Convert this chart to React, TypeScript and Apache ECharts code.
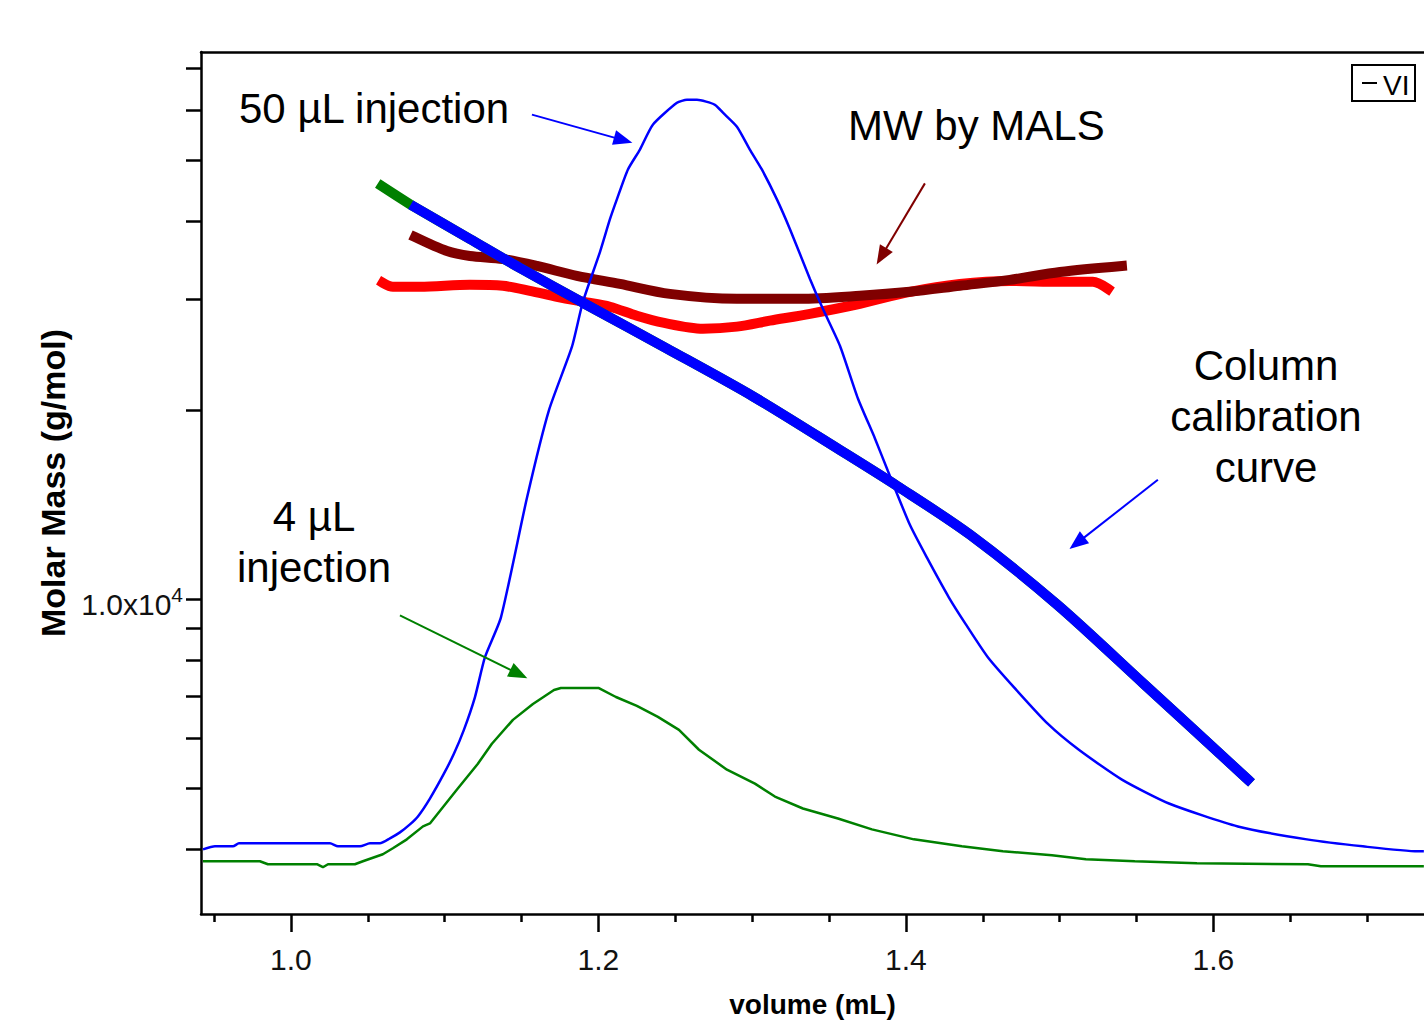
import React, { useEffect, useRef } from "react";
import * as echarts from "echarts";

// ---- axis ranges ----
const X_MIN = 0.9415;
const X_MAX = 1.737;
const MASS_MIN = 3155;
const MASS_MAX = 74400;
const SIG50_MIN = -0.0834;
const SIG50_MAX = 1.0636;
const SIG4_MIN = -0.2825;
const SIG4_MAX = 4.61;

// ---- ticks ----
const xMajorTicks = [1.0, 1.2, 1.4, 1.6];
const xMinorTicks = [0.95, 1.05, 1.1, 1.15, 1.25, 1.3, 1.35, 1.45, 1.5, 1.55, 1.65, 1.7];
const yTickMasses = [4000, 5000, 6000, 7000, 8000, 9000, 10000, 20000, 30000, 40000, 50000, 60000, 70000];
const yLabelMasses = [10000];

// ---- column calibration curves ----
const calBlueVolume = [1.0807, 1.1164, 1.1489, 1.1899, 1.2446, 1.3005, 1.3571, 1.3942, 1.4416, 1.4982, 1.5548, 1.6224];
const calBlueMass = [42110, 37480, 33710, 29670, 25080, 21050, 17290, 15160, 12680, 9819, 7333, 5167];
const calGreenVolume = [1.0592, 1.0774, 1.0807, 1.1164, 1.1489, 1.1899, 1.2446, 1.3005, 1.3571, 1.3942, 1.4416, 1.4982, 1.5548, 1.6224];
const calGreenMass = [45480, 42580, 42110, 37480, 33710, 29670, 25080, 21050, 17290, 15160, 12680, 9819, 7333, 5167];

// ---- MW by MALS ----
const malsDarkVolume = [1.0807, 1.1015, 1.1164, 1.1379, 1.16, 1.186, 1.214, 1.2465, 1.2901, 1.3311, 1.3701, 1.4026, 1.4351, 1.4676, 1.5002, 1.5405];
const malsDarkMass = [37750, 35860, 35220, 34830, 33950, 32740, 31790, 30650, 30100, 30100, 30430, 30880, 31570, 32260, 33210, 33950];
const malsRedVolume = [1.0598, 1.0663, 1.0839, 1.1164, 1.1379, 1.1554, 1.173, 1.1899, 1.2075, 1.225, 1.242, 1.268, 1.2901, 1.3115, 1.3376, 1.3701, 1.4026, 1.4351, 1.4676, 1.5002, 1.5216, 1.5314];
const malsRedMass = [31920, 31460, 31460, 31690, 31570, 31000, 30330, 29780, 29240, 28290, 27580, 26980, 27180, 27780, 28490, 29560, 30880, 31790, 32140, 32030, 32030, 31230];

// ---- detector traces (relative signal) ----
const trace50Volume = [0.9428, 0.9506, 0.9623, 0.9662, 1.0254, 1.0306, 1.0449, 1.0514, 1.0579, 1.0644, 1.0709, 1.0774, 1.0826, 1.0904, 1.0995, 1.106, 1.1125, 1.1197, 1.1262, 1.1366, 1.1535, 1.1678, 1.1828, 1.1899, 1.201, 1.2075, 1.212, 1.2192, 1.227, 1.2354, 1.2511, 1.2576, 1.2641, 1.2758, 1.281, 1.2901, 1.2985, 1.3063, 1.3161, 1.3246, 1.3376, 1.346, 1.3571, 1.3688, 1.3798, 1.3883, 1.4026, 1.4137, 1.428, 1.439, 1.4533, 1.4702, 1.4924, 1.5125, 1.5405, 1.5711, 1.6159, 1.6608, 1.6972, 1.733, 1.7369];
const trace50Signal = [0.0026, 0.0066, 0.0066, 0.0106, 0.0106, 0.0066, 0.0066, 0.0106, 0.0106, 0.0172, 0.0252, 0.0358, 0.0464, 0.0702, 0.1033, 0.1298, 0.1616, 0.2053, 0.2583, 0.3113, 0.4702, 0.5868, 0.6715, 0.7311, 0.7974, 0.8411, 0.8675, 0.9073, 0.9338, 0.9669, 0.996, 1.0, 1.0, 0.9934, 0.9828, 0.9642, 0.9338, 0.9073, 0.8675, 0.8278, 0.7616, 0.7219, 0.6728, 0.6026, 0.5497, 0.506, 0.4344, 0.3907, 0.3377, 0.302, 0.2583, 0.2185, 0.1695, 0.1351, 0.0954, 0.0636, 0.0331, 0.0159, 0.0066, 0.0, 0.0];
const trace4Volume = [0.9428, 0.9798, 0.985, 1.0169, 1.0208, 1.0241, 1.0416, 1.0468, 1.0598, 1.0663, 1.0754, 1.0859, 1.0904, 1.108, 1.1216, 1.1307, 1.1444, 1.1574, 1.1711, 1.1756, 1.2003, 1.2114, 1.225, 1.2387, 1.2524, 1.2654, 1.2836, 1.3018, 1.3148, 1.333, 1.3558, 1.3779, 1.4052, 1.4364, 1.4631, 1.495, 1.5171, 1.5489, 1.5893, 1.6615, 1.6699, 1.7369];
const trace4Signal = [0.0169, 0.0169, 0.0, 0.0, -0.0169, 0.0, 0.0, 0.0169, 0.0565, 0.0904, 0.1412, 0.2147, 0.2316, 0.4237, 0.5706, 0.6836, 0.8192, 0.9096, 0.9887, 1.0, 1.0, 0.9492, 0.8983, 0.8362, 0.7627, 0.6497, 0.5367, 0.4576, 0.3842, 0.3164, 0.2599, 0.1977, 0.1412, 0.1017, 0.0734, 0.0508, 0.0282, 0.0169, 0.0056, 0.0, -0.0113, -0.0113];

// ---- annotation arrows (volume, molar mass) ----
const arrowFromVolume = [1.15675, 1.41236, 1.5639, 1.07089];
const arrowFromMass = [59130, 45960, 15500, 9433];
const arrowToVolume = [1.21613, 1.38413, 1.51128, 1.14823];
const arrowToMass = [53860, 35180, 12290, 7605];
const arrowColors = ["#0000ff", "#800000", "#0000ff", "#008000"];

const SANS = '"Liberation Sans", Arial, sans-serif';

const lg = (v: number) => Math.log10(v);
const toPairs = (xs: number[], ys: number[], f: (v: number) => number = (v) => v) =>
  xs.map((x, i) => [x, f(ys[i])]);

function textEl(text: string, x: number, y: number, align: string, size: number, lineHeight?: number) {
  return {
    type: "text",
    x,
    y,
    silent: true,
    style: {
      text,
      fontSize: size,
      fontFamily: SANS,
      fill: "#000",
      textAlign: align,
      align,
      textVerticalAlign: "middle",
      verticalAlign: "middle",
      lineHeight: lineHeight ?? Math.round(size * 1.2),
    },
  };
}

export default function App() {
  const ref = useRef<HTMLDivElement>(null);

  useEffect(() => {
    if (!ref.current) return;
    const chart = echarts.init(ref.current, undefined, { renderer: "svg" });
    const axisLineStyle = { color: "#000", width: 2.5 };

    const thick = (name: string, xs: number[], ys: number[], color: string, smooth: number | boolean, extra: any = {}) => ({
      name,
      type: "line",
      xAxisIndex: 0,
      yAxisIndex: 0,
      data: toPairs(xs, ys, lg),
      symbol: "none",
      silent: true,
      smooth,
      lineStyle: { color, width: 10, cap: "square" },
      ...extra,
    });

    const option: any = {
      animation: false,
      backgroundColor: "#fff",
      grid: { left: 201, right: 0, top: 52, bottom: 105, containLabel: false },
      xAxis: [
        {
          type: "value",
          min: X_MIN,
          max: X_MAX,
          position: "bottom",
          axisLine: { show: true, onZero: false, lineStyle: axisLineStyle },
          axisTick: { show: true, customValues: xMajorTicks, length: 18, lineStyle: axisLineStyle },
          axisLabel: {
            show: true,
            customValues: xMajorTicks,
            formatter: (v: number) => v.toFixed(1),
            margin: 30,
            fontSize: 30,
            fontFamily: SANS,
            color: "#111",
          },
          splitLine: { show: false },
          name: "volume (mL)",
          nameLocation: "middle",
          nameGap: 76,
          nameTextStyle: { fontSize: 28, fontWeight: "bold", fontFamily: SANS, color: "#000" },
        },
        {
          type: "value",
          min: X_MIN,
          max: X_MAX,
          position: "bottom",
          axisLine: { show: false, onZero: false },
          axisTick: { show: true, customValues: xMinorTicks, length: 8, lineStyle: axisLineStyle },
          axisLabel: { show: false },
          splitLine: { show: false },
        },
        {
          type: "value",
          min: X_MIN,
          max: X_MAX,
          position: "top",
          axisLine: { show: true, onZero: false, lineStyle: axisLineStyle },
          axisTick: { show: false },
          axisLabel: { show: false },
          splitLine: { show: false },
        },
      ],
      yAxis: [
        {
          type: "value",
          min: lg(MASS_MIN),
          max: lg(MASS_MAX),
          position: "left",
          axisLine: { show: true, onZero: false, lineStyle: axisLineStyle },
          axisTick: { show: true, customValues: yTickMasses.map(lg), length: 15, lineStyle: axisLineStyle },
          axisLabel: {
            show: true,
            customValues: yLabelMasses.map(lg),
            margin: 18,
            formatter: (v: number) => {
              const e = Math.round(v);
              const m = Math.pow(10, v - e);
              return `{b|${m.toFixed(1)}x10}{s|${e}}`;
            },
            rich: {
              b: { fontSize: 30, lineHeight: 30, fontFamily: SANS, color: "#111", padding: [16, 0, 6, 0] },
              s: { fontSize: 21, lineHeight: 20, fontFamily: SANS, color: "#111", verticalAlign: "top" },
            },
          },
          splitLine: { show: false },
          name: "Molar Mass (g/mol)",
          nameLocation: "middle",
          nameGap: 119,
          nameTextStyle: { fontSize: 34, fontWeight: "bold", fontFamily: SANS, color: "#000" },
        },
        { type: "value", min: SIG50_MIN, max: SIG50_MAX, show: false, splitLine: { show: false } },
        { type: "value", min: SIG4_MIN, max: SIG4_MAX, show: false, splitLine: { show: false } },
      ],
      series: [
        thick("MALS 4 µL", malsRedVolume, malsRedMass, "#ff0000", 0.3),
        thick("MALS 50 µL", malsDarkVolume, malsDarkMass, "#800000", 0.3),
        thick("Calibration 4 µL", calGreenVolume, calGreenMass, "#008000", 0.3),
        thick("Calibration 50 µL", calBlueVolume, calBlueMass, "#0000ff", 0.3, {
          markLine: {
            silent: true,
            symbol: ["none", "triangle"],
            symbolSize: [15, 19],
            label: { show: false },
            emphasis: { disabled: true },
            data: arrowFromVolume.map((x, i) => [
              {
                coord: [x, lg(arrowFromMass[i])],
                lineStyle: { color: arrowColors[i], width: 2, type: "solid" },
                itemStyle: { color: arrowColors[i] },
              },
              { coord: [arrowToVolume[i], lg(arrowToMass[i])] },
            ]),
          },
        }),
        {
          name: "4 µL injection",
          type: "line",
          xAxisIndex: 0,
          yAxisIndex: 2,
          data: toPairs(trace4Volume, trace4Signal),
          symbol: "none",
          silent: true,
          lineStyle: { color: "#008000", width: 2.5 },
        },
        {
          name: "50 µL injection",
          type: "line",
          xAxisIndex: 0,
          yAxisIndex: 1,
          data: toPairs(trace50Volume, trace50Signal),
          symbol: "none",
          silent: true,
          smooth: 0.2,
          lineStyle: { color: "#0000ff", width: 2.5 },
        },
      ],
      graphic: [
        textEl("50 µL injection", 239, 108, "left", 42),
        textEl("MW by MALS", 848, 125, "left", 42),
        textEl("Column\ncalibration\ncurve", 1266, 416, "center", 42, 51),
        textEl("4 µL\ninjection", 314, 542, "center", 42, 51),
        {
          type: "rect",
          silent: true,
          shape: { x: 1352, y: 65, width: 63, height: 36 },
          style: { fill: "#fff", stroke: "#000", lineWidth: 2 },
        },
        {
          type: "line",
          silent: true,
          shape: { x1: 1362, y1: 83, x2: 1377, y2: 83 },
          style: { stroke: "#000", lineWidth: 2 },
        },
        {
          type: "text",
          x: 1383,
          y: 85,
          silent: true,
          style: {
            text: "VI",
            fontSize: 28,
            fontFamily: SANS,
            fill: "#000",
            textAlign: "left",
            align: "left",
            textVerticalAlign: "middle",
            verticalAlign: "middle",
          },
        },
      ],
    };

    chart.setOption(option);
    return () => chart.dispose();
  }, []);

  return <div ref={ref} style={{ position: "absolute", left: 0, top: 0, width: 1424, height: 1023 }} />;
}
